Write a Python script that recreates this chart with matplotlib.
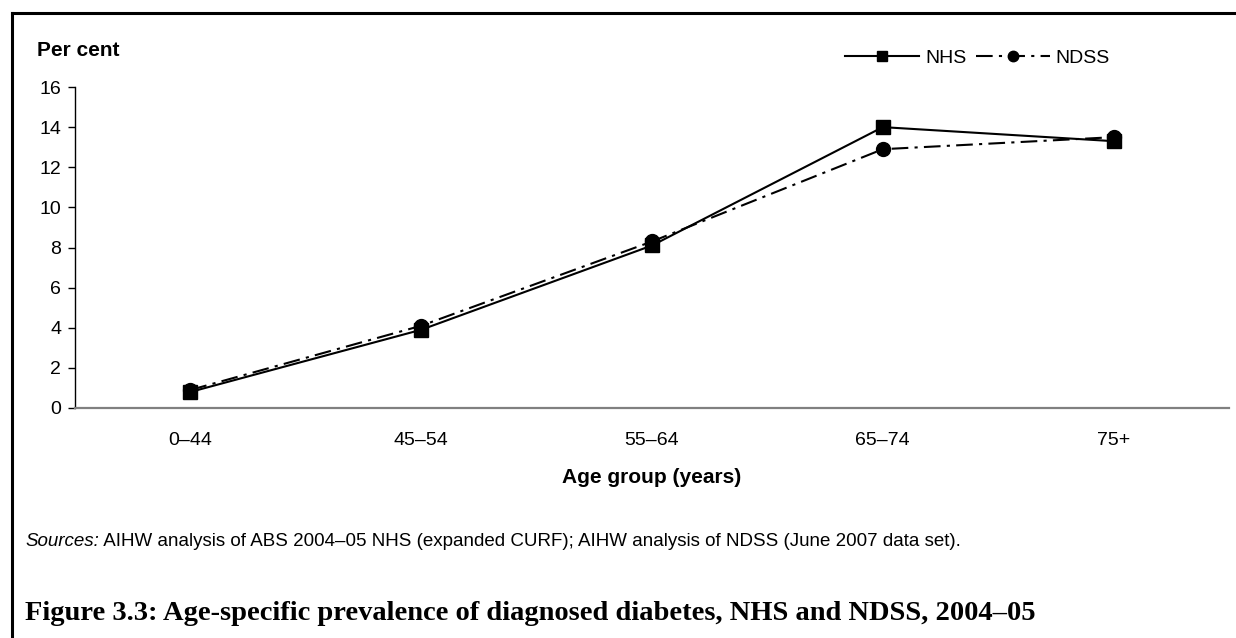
import matplotlib.pyplot as plt
from matplotlib.lines import Line2D

plt.rcParams['font.family'] = ['Liberation Sans', 'DejaVu Sans']

age_groups = ["0–44", "45–54", "55–64", "65–74", "75+"]
nhs = [0.8, 3.9, 8.1, 14.0, 13.3]
ndss = [0.9, 4.1, 8.3, 12.9, 13.5]
y_ticks = [0, 2, 4, 6, 8, 10, 12, 14, 16]

W, H = 1236, 638
fig = plt.figure(figsize=(W / 100, H / 100), dpi=100)
ax = fig.add_axes([75 / W, (H - 408) / H, (1229 - 75) / W, (408 - 87) / H])

x = list(range(len(age_groups)))
ax.plot(x, nhs, color='black', linewidth=1.5, marker='s', markersize=10,
        label='NHS')
ax.plot(x, ndss, color='black', linewidth=1.5, linestyle=(0, (8, 3, 1.5, 3)),
        marker='o', markersize=10, label='NDSS')

ax.set_xlim(-0.5, len(age_groups) - 0.5)
ax.set_ylim(0, 16)
ax.set_yticks(y_ticks)
ax.set_xticks(x)
ax.set_xticklabels(age_groups)
ax.tick_params(axis='x', length=0, pad=17, labelsize=14)
ax.tick_params(axis='y', length=5, width=1, direction='out', pad=5, labelsize=14)

for s in ['top', 'right']:
    ax.spines[s].set_visible(False)
ax.spines['left'].set_linewidth(1)
ax.spines['bottom'].set_color('#808080')
ax.spines['bottom'].set_linewidth(1.6)

ax.set_xlabel("Age group (years)", fontsize=15, fontweight='bold', labelpad=14)

fig.text(37 / W, 1 - 50 / H, "Per cent", fontsize=15, fontweight='bold',
         va='center', ha='left')

ax.legend(loc='upper right', bbox_to_anchor=(1110 / W, 1 - 49 / H),
          bbox_transform=fig.transFigure, ncol=2, frameon=False,
          fontsize=14, handlelength=3.8, handletextpad=0.3, columnspacing=0.5,
          markerscale=0.75, borderpad=0, borderaxespad=0)

t1 = fig.text(25 / W, 1 - 541 / H, "Sources:", fontsize=13.5, style='italic',
              va='center', ha='left')
ax.annotate(" AIHW analysis of ABS 2004–05 NHS (expanded CURF); AIHW analysis of NDSS (June 2007 data set).",
            xy=(1, 0), xycoords=t1, va='bottom', ha='left', fontsize=13.5)

fig.text(25 / W, 1 - 614 / H,
         "Figure 3.3: Age-specific prevalence of diagnosed diabetes, NHS and NDSS, 2004–05",
         fontsize=20.5, fontweight='bold', family=['Liberation Serif', 'DejaVu Serif'],
         va='center', ha='left')

fig.add_artist(Line2D([11.5 / W, 11.5 / W], [0, 1 - 12.5 / H], color='black',
                      linewidth=2.2, transform=fig.transFigure))
fig.add_artist(Line2D([11.5 / W, 1], [1 - 12.5 / H, 1 - 12.5 / H], color='black',
                      linewidth=2.2, transform=fig.transFigure))

fig.savefig("out.png", dpi=100)
